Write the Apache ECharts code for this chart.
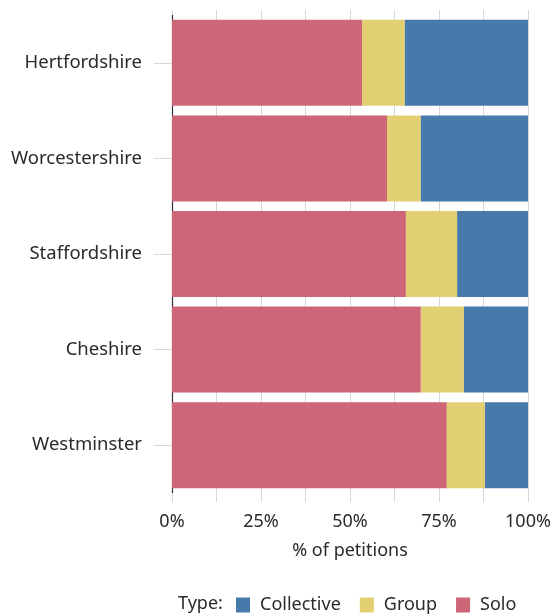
<!DOCTYPE html>
<html>
<head>
<meta charset="utf-8">
<script src="https://cdn.jsdelivr.net/npm/echarts@6/dist/echarts.min.js"></script>
<style>
  html, body { margin: 0; padding: 0; background: #fff; }
  #chart { width: 554px; height: 615px; }
</style>
</head>
<body>
<div id="chart"></div>
<script>
// petition shares by county, in percent
const counties = ['Hertfordshire', 'Worcestershire', 'Staffordshire', 'Cheshire', 'Westminster'];
const solo = [53.4, 60.4, 65.7, 69.9, 77.2];
const group = [12.0, 9.5, 14.4, 12.1, 10.7];
const collective = [34.6, 30.1, 19.9, 18.0, 12.1];
const xTicks = [0, 25, 50, 75, 100];

const font = 'Noto Sans';
const textColor = '#2a2a2a';
const gridColor = '#d6d6d6';

const chart = echarts.init(document.getElementById('chart'));

function bar(name, data, color) {
  return {
    name: name,
    type: 'bar',
    stack: 'type',
    barWidth: '90%',
    data: data,
    itemStyle: { color: color },
    emphasis: { disabled: true },
    animation: false
  };
}

chart.setOption({
  textStyle: { fontFamily: font },
  title: {
    text: 'Type:',
    left: 173,
    top: 590,
    textStyle: { fontSize: 18, fontWeight: 'normal', color: textColor, fontFamily: font }
  },
  legend: {
    left: 231,
    top: 591,
    itemWidth: 14,
    itemHeight: 15,
    itemGap: 19,
    icon: 'rect',
    data: ['Collective', 'Group', 'Solo'],
    textStyle: { fontSize: 18, color: textColor, fontFamily: font, padding: [0, 0, 0, 5] },
    selectedMode: false
  },
  grid: { left: 172, right: 26, top: 15, bottom: 122 },
  xAxis: [
    {
      type: 'value',
      position: 'bottom',
      min: 0,
      max: 100,
      interval: 12.5,
      name: '% of petitions',
      nameLocation: 'middle',
      nameGap: 49,
      nameTextStyle: { fontSize: 18, color: textColor },
      axisLine: { show: false },
      axisTick: { show: true, length: 9, lineStyle: { color: gridColor, width: 1 } },
      axisLabel: {
        margin: 20,
        fontSize: 18,
        color: textColor,
        formatter: v => (xTicks.indexOf(v) >= 0 ? v + '%' : '')
      },
      splitLine: { show: true, lineStyle: { color: gridColor, width: 1 } }
    },
    {
      type: 'value',
      position: 'top',
      min: 0,
      max: 100,
      interval: 12.5,
      axisLine: { show: false },
      axisTick: { show: true, length: 5, lineStyle: { color: gridColor, width: 1 } },
      axisLabel: { show: false },
      splitLine: { show: false }
    }
  ],
  yAxis: [
    {
      type: 'category',
      data: counties,
      inverse: true,
      axisLine: { show: true, lineStyle: { color: '#333', width: 1.2 } },
      axisTick: { show: true, alignWithLabel: true, length: 18, lineStyle: { color: gridColor } },
      axisLabel: { margin: 30, fontSize: 18.5, color: textColor }
    },
    {
      type: 'category',
      data: counties,
      inverse: true,
      position: 'right',
      axisLine: { show: false },
      axisTick: { show: true, alignWithLabel: true, length: 18, lineStyle: { color: gridColor } },
      axisLabel: { show: false }
    }
  ],
  series: [
    bar('Solo', solo, '#CD6677'),
    bar('Group', group, '#E3CF73'),
    bar('Collective', collective, '#477AAA')
  ]
});
</script>
</body>
</html>
